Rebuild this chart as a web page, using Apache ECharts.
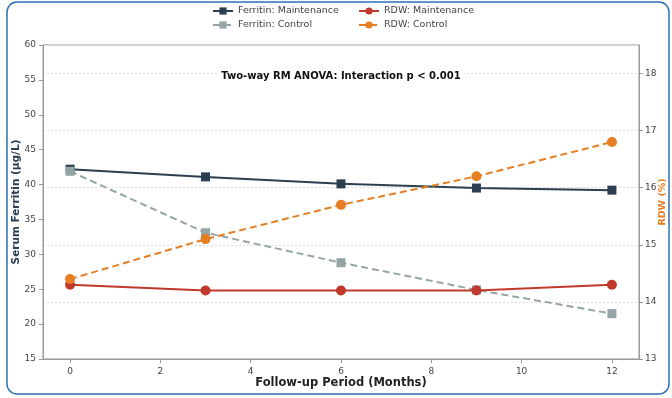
<!DOCTYPE html>
<html>
<head>
<meta charset="utf-8">
<script src="https://cdn.jsdelivr.net/npm/echarts@6/dist/echarts.min.js"></script>
<style>html,body{margin:0;padding:0;background:#fff}#c{width:672px;height:398px}</style>
</head>
<body>
<div id="c"></div>
<script>
const months = [0, 3, 6, 9, 12];
const ferritinMaintenance = [42.2, 41.1, 40.1, 39.5, 39.2];
const ferritinControl = [41.9, 33.1, 28.8, 24.9, 21.5];
const rdwMaintenance = [14.3, 14.2, 14.2, 14.2, 14.3];
const rdwControl = [14.4, 15.1, 15.7, 16.2, 16.8];
const seriesNames = ['Ferritin: Maintenance', 'Ferritin: Control', 'RDW: Maintenance', 'RDW: Control'];
const annotation = 'Two-way RM ANOVA: Interaction p < 0.001';

const pair = arr => months.map((m, i) => [m, arr[i]]);
const FONT = 'DejaVu Sans';
const colors = ['#2c3e50', '#95a5a6', '#c0392b', '#e67e22'];

const chart = echarts.init(document.getElementById('c'), null, {renderer: 'canvas'});

function mkSeries(name, data, yIdx, color, dashed, symbol) {
  return {
    name, type: 'line', data: pair(data), yAxisIndex: yIdx,
    symbol, symbolSize: symbol === 'rect' ? 9 : 10,
    itemStyle: {color},
    lineStyle: {color, width: 2, type: dashed ? [7, 4] : 'solid'},
    z: 3
  };
}

function mkLegend(name, left, top) {
  return {
    data: [name], left, top, itemWidth: 20, itemHeight: 9, padding: 0,
    textStyle: {fontFamily: FONT, fontSize: 9.5, color: '#444'}
  };
}

chart.setOption({
  animation: false,
  grid: {left: 43, right: 33, top: 45, bottom: 39, outerBoundsMode: 'none', containLabel: false,
    show: true, borderColor: '#999', borderWidth: 1, backgroundColor: 'transparent'},
  legend: [
    mkLegend(seriesNames[0], 212, 6),
    mkLegend(seriesNames[1], 212, 20),
    mkLegend(seriesNames[2], 358, 6),
    mkLegend(seriesNames[3], 358, 20)
  ],
  graphic: [
    {type: 'rect', shape: {x: 7, y: 2, width: 662, height: 392, r: 10}, style: {fill: 'none', stroke: '#2f6fb5', lineWidth: 1.5}, silent: true},
    {type: 'text', z: 10, style: {text: annotation, x: 341, y: 76, align: 'center', verticalAlign: 'middle',
      font: 'bold 10px "DejaVu Sans"', fill: '#111', backgroundColor: '#fff', padding: [2, 4]}}
  ],
  xAxis: {
    type: 'value', min: -0.6, max: 12.6, splitNumber: 7,
    name: 'Follow-up Period (Months)', nameLocation: 'middle', nameGap: 18, nameMoveOverlap: false,
    nameTextStyle: {fontFamily: FONT, fontSize: 11.5, fontWeight: 'bold', color: '#222'},
    axisLine: {show: true, onZero: false, lineStyle: {color: '#999'}},
    axisTick: {show: true, length: 4, lineStyle: {color: '#999'}},
    axisLabel: {fontFamily: FONT, fontSize: 9, color: '#444', showMinLabel: false, showMaxLabel: false,
      formatter: v => (Math.abs(v - Math.round(v)) < 1e-6 && Math.round(v) % 2 === 0) ? String(Math.round(v)) : ''},
    splitLine: {show: false}
  },
  yAxis: [
    {
      type: 'value', min: 15, max: 60, interval: 5, position: 'left',
      name: 'Serum Ferritin (μg/L)', nameLocation: 'middle', nameGap: 21, nameMoveOverlap: false,
      nameTextStyle: {fontFamily: FONT, fontSize: 10.5, fontWeight: 'bold', color: '#2c3e50'},
      axisLine: {show: true, onZero: false, lineStyle: {color: '#999'}},
      axisTick: {show: true, length: 4, lineStyle: {color: '#999'}},
      axisLabel: {fontFamily: FONT, fontSize: 9, color: '#444', margin: 7},
      splitLine: {show: false}
    },
    {
      type: 'value', min: 13, max: 18.5, interval: 1, position: 'right',
      name: 'RDW (%)', nameLocation: 'middle', nameGap: 19, nameMoveOverlap: false,
      nameTextStyle: {fontFamily: FONT, fontSize: 9.5, fontWeight: 'bold', color: '#e67e22'},
      axisLine: {show: true, onZero: false, lineStyle: {color: '#999'}},
      axisTick: {show: true, length: 4, lineStyle: {color: '#999'}},
      axisLabel: {fontFamily: FONT, fontSize: 9, color: '#444', margin: 6, showMaxLabel: false,
        formatter: v => Number.isInteger(v) ? String(v) : ''},
      splitLine: {show: true, lineStyle: {color: '#ddd', type: [2, 2], width: 1}}
    }
  ],
  series: [
    mkSeries(seriesNames[0], ferritinMaintenance, 0, colors[0], false, 'rect'),
    mkSeries(seriesNames[1], ferritinControl, 0, colors[1], true, 'rect'),
    mkSeries(seriesNames[2], rdwMaintenance, 1, colors[2], false, 'circle'),
    mkSeries(seriesNames[3], rdwControl, 1, colors[3], true, 'circle')
  ]
});
</script>
</body>
</html>
